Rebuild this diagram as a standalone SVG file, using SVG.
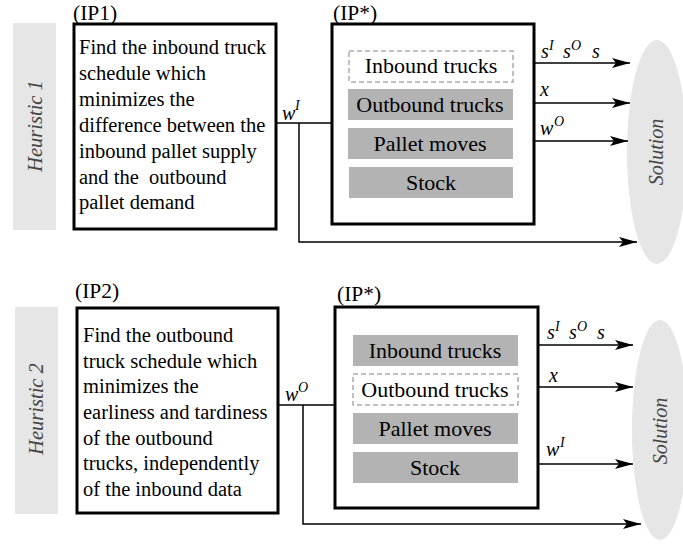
<svg xmlns="http://www.w3.org/2000/svg" width="683" height="546" viewBox="0 0 683 546" font-family="'Liberation Serif', 'DejaVu Serif', serif">
<defs>
<style>
text{font-family:'Liberation Serif','DejaVu Serif',serif;fill:#000}
.band{fill:#e6e6e6}
.heur{font-size:20.5px;font-style:italic;fill:#444;text-anchor:middle}
.sol{font-size:20px;font-style:italic;fill:#444;text-anchor:middle}
.ell{fill:#e6e6e6}
.box{fill:#fff;stroke:#000;stroke-width:3}
.desc{font-size:20.5px}
.lab{font-size:21.5px}
.gbox{fill:#b3b3b3}
.dbox{fill:#fff;stroke:#aaa;stroke-width:1.5;stroke-dasharray:5,3}
.itxt{font-size:22px;text-anchor:middle}
.var{font-size:20px;font-style:italic}
.sup{font-size:14px;font-style:italic}
.con{fill:none;stroke:#000;stroke-width:1.5}
</style>
<marker id="ah" viewBox="0 0 18 10" refX="18" refY="5" markerWidth="18" markerHeight="10" markerUnits="userSpaceOnUse" orient="auto">
<path d="M0,0 L18,5 L0,10 L4,5 Z" fill="#000"/>
</marker>
</defs>

<g id="heuristic1">
<rect class="band" x="13" y="23" width="43" height="207"/>
<text class="heur" transform="translate(42,126) rotate(-90)">Heuristic 1</text>
</g>
<g id="heuristic2">
<rect class="band" x="15" y="307" width="43" height="207"/>
<text class="heur" transform="translate(43,409) rotate(-90)">Heuristic 2</text>
</g>

<g id="solution1">
<ellipse class="ell" cx="657" cy="152" rx="30" ry="112"/>
<text class="sol" transform="translate(663,152) rotate(-90)">Solution</text>
</g>
<g id="solution2">
<ellipse class="ell" cx="660" cy="430" rx="28" ry="110"/>
<text class="sol" transform="translate(667,431) rotate(-90)">Solution</text>
</g>

<g id="connectors">
<path class="con" d="M276,123 H332"/>
<path class="con" d="M299,123 V242 H637" marker-end="url(#ah)"/>
<path class="con" d="M513,63 H630" marker-end="url(#ah)"/>
<path class="con" d="M513,103 H630" marker-end="url(#ah)"/>
<path class="con" d="M513,141 H628" marker-end="url(#ah)"/>
<path class="con" d="M278,405 H335"/>
<path class="con" d="M303,405 V524 H641" marker-end="url(#ah)"/>
<path class="con" d="M518,345 H633" marker-end="url(#ah)"/>
<path class="con" d="M518,387 H633" marker-end="url(#ah)"/>
<path class="con" d="M518,464 H633" marker-end="url(#ah)"/>
<text class="var" x="282" y="120">w</text><text class="sup" x="295" y="110">I</text>
<text class="var" x="285" y="401">w</text><text class="sup" x="298" y="392">O</text>
<text class="var" x="541" y="58">s</text><text class="sup" x="549" y="50">I</text>
<text class="var" x="563" y="58">s</text><text class="sup" x="571" y="50">O</text>
<text class="var" x="592" y="58">s</text>
<text class="var" x="540" y="96">x</text>
<text class="var" x="540" y="135">w</text><text class="sup" x="554" y="126">O</text>
<text class="var" x="547" y="339">s</text><text class="sup" x="555" y="331">I</text>
<text class="var" x="569" y="339">s</text><text class="sup" x="577" y="331">O</text>
<text class="var" x="597" y="339">s</text>
<text class="var" x="549" y="382">x</text>
<text class="var" x="546" y="456">w</text><text class="sup" x="560" y="447">I</text>
</g>

<g id="ip1">
<text class="lab" x="73" y="20">(IP1)</text>
<rect class="box" x="74" y="24" width="202" height="205"/>
<text class="desc" x="79" y="54">Find the inbound truck</text>
<text class="desc" x="79" y="80">schedule which</text>
<text class="desc" x="79" y="106">minimizes the</text>
<text class="desc" x="79" y="132">difference between the</text>
<text class="desc" x="79" y="158">inbound pallet supply</text>
<text class="desc" x="79" y="184" xml:space="preserve">and the  outbound</text>
<text class="desc" x="79" y="209">pallet demand</text>
</g>

<g id="ipstar1">
<text class="lab" x="333" y="20">(IP*)</text>
<rect class="box" x="332" y="24" width="202" height="200"/>
<rect class="dbox" x="349" y="51" width="164" height="31"/>
<text class="itxt" x="431" y="73">Inbound trucks</text>
<rect class="gbox" x="348" y="89" width="165" height="31"/>
<text class="itxt" x="430" y="112">Outbound trucks</text>
<rect class="gbox" x="348" y="128" width="165" height="31"/>
<text class="itxt" x="430" y="151">Pallet moves</text>
<rect class="gbox" x="349" y="167" width="164" height="31"/>
<text class="itxt" x="431" y="190">Stock</text>
</g>

<g id="ip2">
<text class="lab" x="75" y="298">(IP2)</text>
<rect class="box" x="77" y="308" width="201" height="205"/>
<text class="desc" x="83" y="342">Find the outbound</text>
<text class="desc" x="83" y="368">truck schedule which</text>
<text class="desc" x="83" y="393">minimizes the</text>
<text class="desc" x="83" y="419">earliness and tardiness</text>
<text class="desc" x="83" y="445">of the outbound</text>
<text class="desc" x="83" y="470">trucks, independently</text>
<text class="desc" x="83" y="496">of the inbound data</text>
</g>

<g id="ipstar2">
<text class="lab" x="337" y="301">(IP*)</text>
<rect class="box" x="335" y="307" width="203" height="201"/>
<rect class="gbox" x="353" y="335" width="165" height="31"/>
<text class="itxt" x="435" y="358">Inbound trucks</text>
<rect class="dbox" x="353" y="374" width="165" height="31"/>
<text class="itxt" x="435" y="397">Outbound trucks</text>
<rect class="gbox" x="353" y="413" width="165" height="31"/>
<text class="itxt" x="435" y="436">Pallet moves</text>
<rect class="gbox" x="353" y="452" width="165" height="31"/>
<text class="itxt" x="435" y="475">Stock</text>
</g>
</svg>
